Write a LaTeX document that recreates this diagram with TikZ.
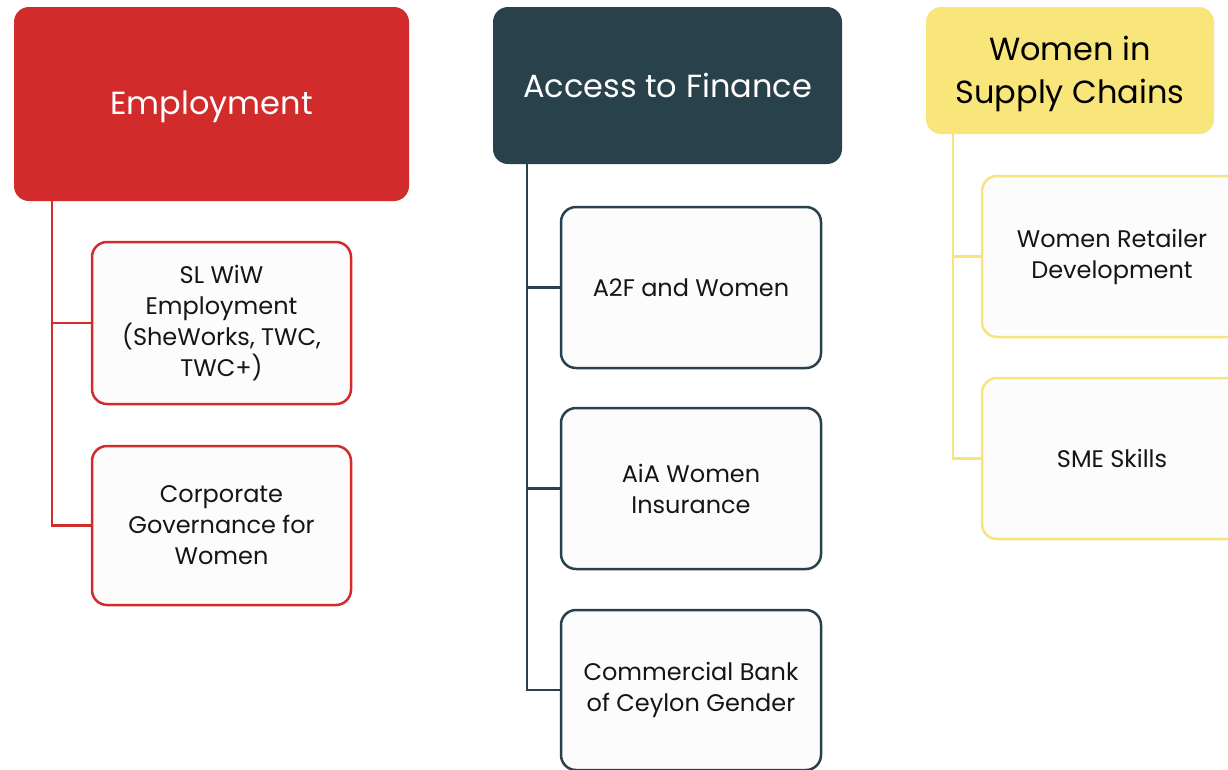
\documentclass[tikz,border=0pt]{standalone}
\usepackage{fontspec}
\setmainfont{Poppins}
\definecolor{cred}{HTML}{D12B2B}
\definecolor{cdark}{HTML}{29414B}
\definecolor{cyel}{HTML}{F9E67A}
\definecolor{cyelline}{HTML}{F7E47C}
\definecolor{cfill}{HTML}{FCFCFC}
\definecolor{ctext}{HTML}{151515}
\newcommand{\lowertext}[1]{\raisebox{0pt}[\dimexpr\height+6pt\relax]{#1}}
\begin{document}
\begin{tikzpicture}[x=1pt,y=-1pt,
  head/.style={rounded corners=15pt, align=center, inner sep=0pt,
    font=\fontsize{32}{43}\selectfont},
  child/.style={rounded corners=15pt, draw, line width=2.5pt, fill=cfill,
    align=center, inner sep=0pt, minimum width=259pt, text=ctext,
    font=\fontsize{24}{31}\selectfont},
  conn/.style={line width=2.5pt}
]
\useasboundingbox (0,0) rectangle (1228,769);
\clip (0,0) rectangle (1228,769);
\fill[white] (0,0) rectangle (1228,769);

% headers
\node[head, fill=cred, text=white, minimum width=395pt, minimum height=194pt] (emp) at (211.5,104) {\lowertext{Employment}};
\node[head, fill=cdark, text=white, minimum width=349pt, minimum height=157pt] (fin) at (667.5,85.5) {Access to Finance};
\node[head, fill=cyel, text=black, minimum width=288pt, minimum height=127pt] (wsc) at (1070,70.5) {\lowertext{\begin{tabular}{@{}c@{}}Women in\\Supply Chains\end{tabular}}};

% employment children
\node[child, draw=cred, minimum height=162pt] (e1) at (221.5,323) {SL WiW\\Employment\\(SheWorks, TWC,\\TWC+)};
\node[child, draw=cred, minimum height=159pt] (e2) at (221.5,525.5) {Corporate\\Governance for\\Women};

% finance children
\node[child, draw=cdark, minimum width=260pt, minimum height=161pt] (f1) at (691,287.5) {A2F and Women};
\node[child, draw=cdark, minimum width=260pt, minimum height=161pt] (f2) at (691,488.5) {AiA Women\\Insurance};
\node[child, draw=cdark, minimum width=260pt, minimum height=160pt] (f3) at (691,690) {Commercial Bank\\of Ceylon Gender};

% supply chain children
\node[child, draw=cyelline, minimum width=260pt, minimum height=161pt] (w1) at (1112,256.5) {Women Retailer\\Development};
\node[child, draw=cyelline, minimum width=260pt, minimum height=161pt] (w2) at (1112,458.5) {SME Skills};

% bus coordinates
\coordinate (ex) at (52,0);
\coordinate (fx) at (527,0);
\coordinate (wx) at (953,0);

\draw[conn, cred] (emp.south -| ex) |- (e2.west);
\draw[conn, cred] (e1.west -| ex) -- (e1.west);

\draw[conn, cdark] (fin.south -| fx) |- (f3.west);
\draw[conn, cdark] (f1.west -| fx) -- (f1.west);
\draw[conn, cdark] (f2.west -| fx) -- (f2.west);

\draw[conn, cyelline] (wsc.south -| wx) |- (w2.west);
\draw[conn, cyelline] (w1.west -| wx) -- (w1.west);
\end{tikzpicture}
\end{document}
